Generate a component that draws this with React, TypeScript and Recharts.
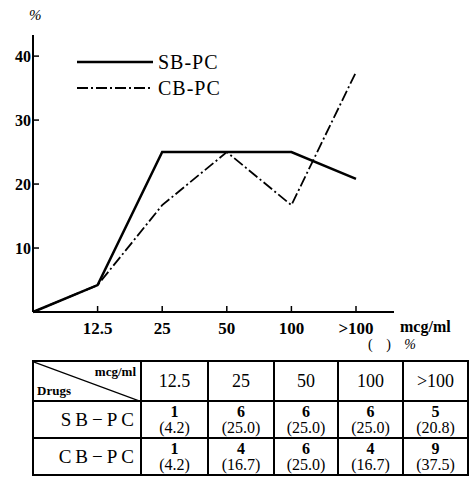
import React from "react";
import { LineChart, Line, XAxis, YAxis } from "recharts";

const doses = ["0", "12.5", "25", "50", "100", ">100"];
const sbPc = [0, 4.2, 25.0, 25.0, 25.0, 20.8];
const cbPc = [0, 4.2, 16.7, 25.0, 16.7, 37.5];
const yTicks = [10, 20, 30, 40];

const sbCounts = [1, 6, 6, 6, 5];
const cbCounts = [1, 4, 6, 4, 9];
const sbPct = ["4.2", "25.0", "25.0", "25.0", "20.8"];
const cbPct = ["4.2", "16.7", "25.0", "16.7", "37.5"];
const tableDoses = ["12.5", "25", "50", "100", ">100"];

const data = doses.map((d, i) => ({ dose: d, sb: sbPc[i], cb: cbPc[i] }));

const FONT = '"Times New Roman", Tinos, "Liberation Serif", "Noto Serif", "DejaVu Serif", serif';
const DASH = "11 3 2 3";

// ticks point inward, like the original print
const XTick = (props: any) => {
  const { x, payload, index } = props;
  if (index === 0) return null;
  return (
    <g>
      <line x1={x} y1={312} x2={x} y2={306} stroke="#000" strokeWidth={1.5} />
      <text x={x} y={334} textAnchor="middle" fontFamily={FONT} fontSize={17} fontWeight="bold" fill="#000">
        {payload.value}
      </text>
    </g>
  );
};

const YTick = (props: any) => {
  const { y, payload } = props;
  return (
    <g>
      <line x1={33} y1={y} x2={39} y2={y} stroke="#000" strokeWidth={1.5} />
      <text x={31} y={y + 6} textAnchor="end" fontFamily={FONT} fontSize={16} fontWeight="bold" fill="#000">
        {payload.value}
      </text>
    </g>
  );
};

const legendItems = [
  { name: "SB-PC", dash: undefined, w: 2.5 },
  { name: "CB-PC", dash: DASH, w: 2 },
];

const cell: React.CSSProperties = {
  border: "2px solid #000",
  padding: 0,
  textAlign: "center",
  fontFamily: FONT,
};

export default function App() {
  return (
    <div style={{ position: "absolute", left: 0, top: 0, width: 469, height: 485, background: "#fff", overflow: "hidden" }}>
      <div style={{ position: "absolute", left: 29, top: 7, fontFamily: FONT, fontStyle: "italic", fontSize: 15 }}>%</div>
      <LineChart width={469} height={345} data={data} margin={{ top: 35, right: 75, left: 0, bottom: 0 }}>
        <XAxis
          dataKey="dose"
          padding={{ left: 0, right: 38 }}
          axisLine={{ stroke: "#000", strokeWidth: 2 }}
          tickLine={false}
          tick={<XTick />}
          height={33}
          interval={0}
        />
        <YAxis
          domain={[0, 43.3]}
          ticks={yTicks}
          axisLine={{ stroke: "#000", strokeWidth: 2 }}
          tickLine={false}
          tick={<YTick />}
          width={33}
        />
        <Line type="linear" dataKey="sb" stroke="#000" strokeWidth={2.5} dot={false} isAnimationActive={false} />
        <Line
          type="linear"
          dataKey="cb"
          stroke="#000"
          strokeWidth={1.8}
          strokeDasharray={DASH}
          dot={false}
          isAnimationActive={false}
        />
      </LineChart>
      <div style={{ position: "absolute", left: 77, top: 49, fontFamily: FONT, fontSize: 20, lineHeight: "26px", letterSpacing: 1 }}>
        {legendItems.map((it) => (
          <div key={it.name} style={{ display: "flex", alignItems: "center" }}>
            <svg width={81} height={10}>
              <line x1={0} y1={5} x2={76} y2={5} stroke="#000" strokeWidth={it.w} strokeDasharray={it.dash} />
            </svg>
            <span>{it.name}</span>
          </div>
        ))}
      </div>
      <div style={{ position: "absolute", left: 400, top: 318, fontFamily: FONT, fontWeight: "bold", fontSize: 16 }}>mcg/ml</div>
      <div style={{ position: "absolute", left: 368, top: 337, fontFamily: FONT, fontSize: 14, letterSpacing: 5 }}>
        (&nbsp;)&nbsp;<i>%</i>
      </div>
      <table
        style={{
          position: "absolute",
          left: 32,
          top: 360,
          width: 435,
          borderCollapse: "collapse",
          tableLayout: "fixed",
        }}
      >
        <colgroup>
          <col style={{ width: 108 }} />
          <col style={{ width: 67 }} />
          <col style={{ width: 66 }} />
          <col style={{ width: 64 }} />
          <col style={{ width: 65 }} />
          <col style={{ width: 65 }} />
        </colgroup>
        <tbody>
          <tr style={{ height: 40 }}>
            <td style={{ ...cell, position: "relative" }}>
              <svg width={108} height={40} style={{ position: "absolute", left: 0, top: 0 }}>
                <line x1={0} y1={0} x2={108} y2={40} stroke="#000" strokeWidth={1.2} />
              </svg>
              <span style={{ position: "absolute", right: 4, top: 2, fontWeight: "bold", fontSize: 13 }}>mcg/ml</span>
              <span style={{ position: "absolute", left: 3, bottom: 1, fontWeight: "bold", fontSize: 13 }}>Drugs</span>
            </td>
            {tableDoses.map((d) => (
              <td key={d} style={{ ...cell, fontSize: 18 }}>
                {d}
              </td>
            ))}
          </tr>
          {[
            { name: "SB−PC", counts: sbCounts, pct: sbPct },
            { name: "CB−PC", counts: cbCounts, pct: cbPct },
          ].map((row) => (
            <tr key={row.name} style={{ height: 37 }}>
              <td style={{ ...cell, textAlign: "right", paddingRight: 2, fontSize: 19, letterSpacing: 4 }}>{row.name}</td>
              {row.counts.map((c, i) => (
                <td key={i} style={{ ...cell, fontSize: 16, lineHeight: "16px" }}>
                  <div style={{ fontWeight: "bold" }}>{c}</div>
                  <div>({row.pct[i]})</div>
                </td>
              ))}
            </tr>
          ))}
        </tbody>
      </table>
    </div>
  );
}
